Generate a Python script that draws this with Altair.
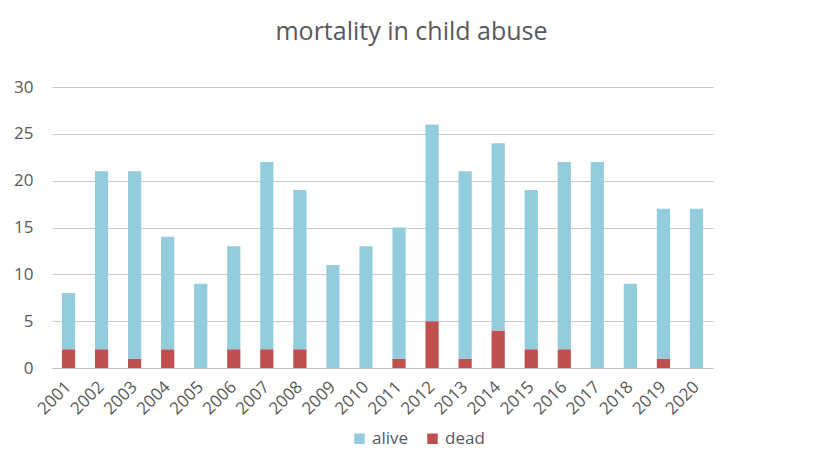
import altair as alt
import pandas as pd

years = [str(y) for y in range(2001, 2021)]
totals = [8, 21, 21, 14, 9, 13, 22, 19, 11, 13, 15, 26, 21, 24, 19, 22, 22, 9, 17, 17]
dead = [2, 2, 1, 2, 0, 2, 2, 2, 0, 0, 1, 5, 1, 4, 2, 2, 0, 0, 1, 0]
alive = [t - d for t, d in zip(totals, dead)]

rows = []
for y, a, d in zip(years, alive, dead):
    rows.append({"year": y, "status": "dead", "value": d, "ord": 0})
    rows.append({"year": y, "status": "alive", "value": a, "ord": 1})
df = pd.DataFrame(rows)

FONT = "Open Sans"
TXT = "#595959"

chart = alt.Chart(df).mark_bar().encode(
    x=alt.X("year:N", title=None, sort=years,
            scale=alt.Scale(paddingInner=0.6, paddingOuter=0.3),
            axis=alt.Axis(labelAngle=-45, labelAlign="right", labelBaseline="middle",
                          labelFontSize=17, labelColor=TXT, labelFont=FONT,
                          ticks=False, domainColor="#bfbfbf", labelPadding=16)),
    y=alt.Y("value:Q", title=None, stack="zero",
            scale=alt.Scale(domain=[0, 30]),
            axis=alt.Axis(values=[0, 5, 10, 15, 20, 25, 30], labelFontSize=17, labelColor=TXT,
                          labelFont=FONT, ticks=False, domain=False, gridColor="#c8c8c8",
                          labelPadding=19)),
    color=alt.Color("status:N", scale=alt.Scale(domain=["alive", "dead"], range=["#93CDDD", "#C0504D"]),
                    legend=alt.Legend(title=None, orient="none", legendX=299, legendY=343,
                                      direction="horizontal", symbolType="square", symbolSize=110,
                                      symbolStrokeWidth=0, labelFontSize=17, labelColor=TXT,
                                      labelFont=FONT, columnPadding=15, labelOffset=4)),
    order=alt.Order("ord:Q", sort="ascending"),
).properties(
    width=661, height=281,
    title=alt.TitleParams("mortality in child abuse", fontSize=25, font=FONT, color=TXT,
                          fontWeight="normal", anchor="middle", dx=29, offset=33),
    autosize=alt.AutoSizeParams(type="none"),
    padding={"left": 44, "top": 79, "right": 112, "bottom": 96},
).configure(background="white").configure_view(stroke=None)

chart.save("out.html", embed_options={"renderer": "svg", "actions": False})
